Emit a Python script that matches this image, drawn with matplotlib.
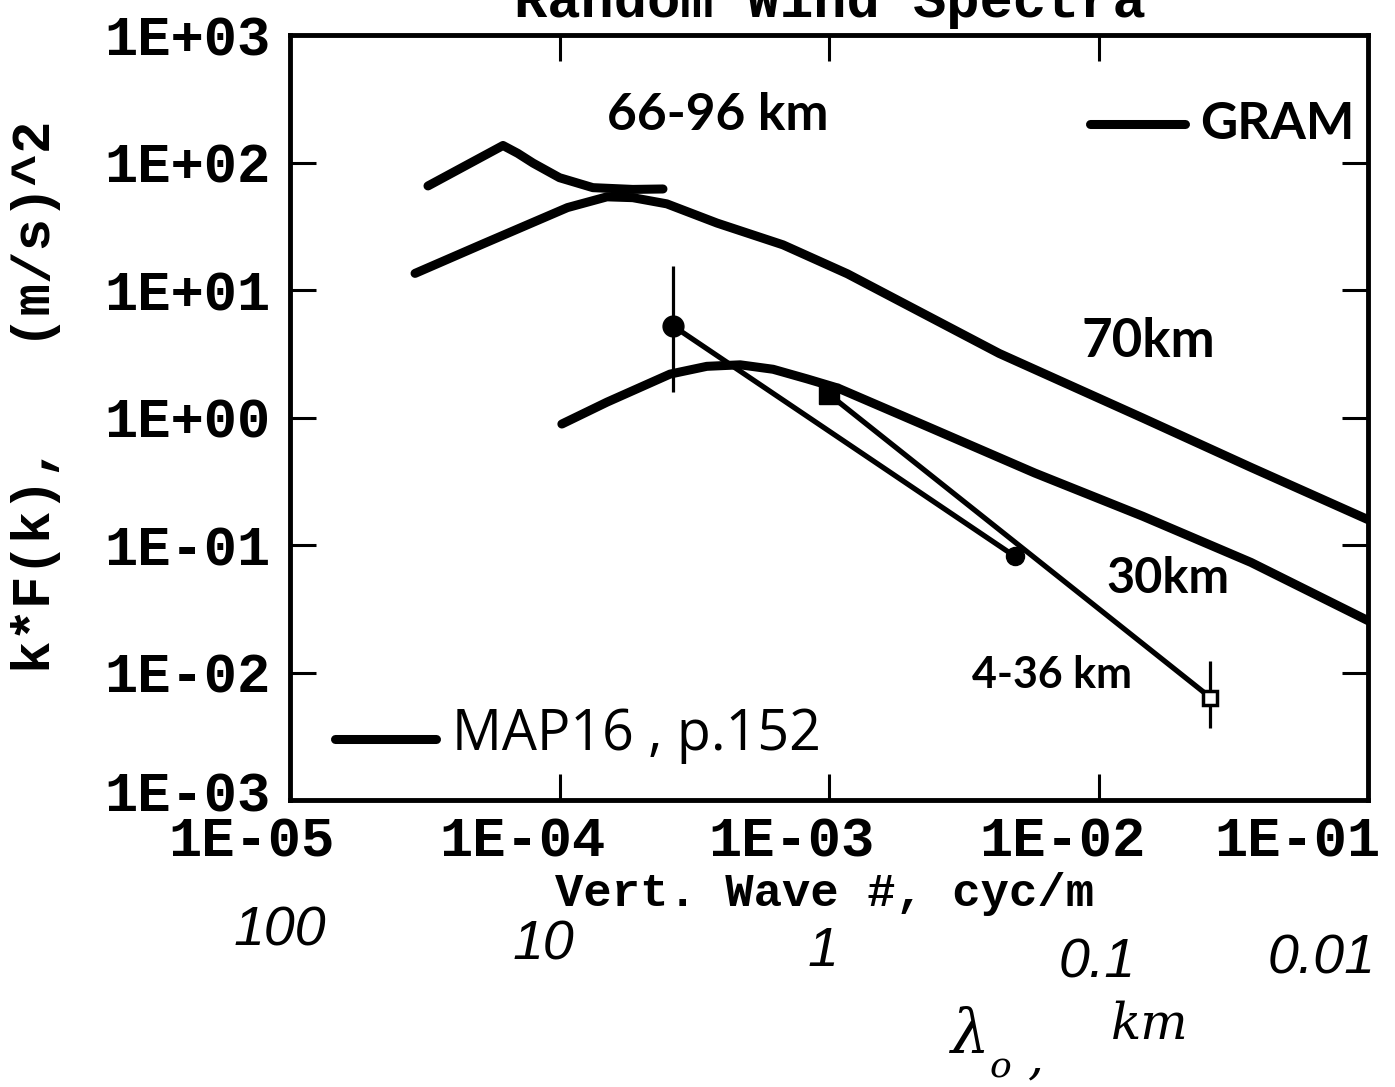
import matplotlib
matplotlib.use("Agg")
import matplotlib.pyplot as plt
import matplotlib.transforms as mtransforms
from matplotlib.ticker import NullLocator

# --- spectra (wavenumber in cyc/m, k*F(k) in (m/s)^2) ---
gram70_k = [2.91e-5, 5.2e-5, 1.07e-4, 1.5e-4, 1.87e-4, 2.5e-4, 3.84e-4,
            6.75e-4, 1.17e-3, 4.28e-3, 1.46e-2, 3.68e-2, 1e-1]
gram70_f = [13.5, 23.0, 44.3, 53.8, 53.0, 47.4, 33.5,
            22.6, 13.4, 3.18, 0.99, 0.406, 0.158]

upper_k = [3.25e-5, 6.17e-5, 7.0e-5, 7.98e-5, 1.0e-4, 1.33e-4, 1.87e-4, 2.42e-4]
upper_f = [65.5, 136, 118, 98.9, 76, 63.5, 61.5, 62]

gram30_k = [1.02e-4, 1.5e-4, 2.57e-4, 3.52e-4, 4.68e-4, 6.2e-4, 8.28e-4,
            1.08e-3, 2.33e-3, 5.8e-3, 1.46e-2, 3.68e-2, 1e-1]
gram30_f = [0.889, 1.32, 2.19, 2.52, 2.59, 2.39, 2.01,
            1.70, 0.845, 0.367, 0.168, 0.073, 0.0255]

# MAP16 measurements (4-36 km)
map_circ_k = [2.64e-4, 4.9e-3]
map_circ_f = [5.22, 0.0813]
map_sq_k = [1e-3, 0.026]
map_sq_f = [1.52, 0.00637]
err_k = [2.64e-4, 0.026]
err_lo = [1.58, 0.0037]
err_hi = [15.5, 0.0124]

x_ticks = [1e-5, 1e-4, 1e-3, 1e-2, 1e-1]
x_tick_labels = ["1E-05", "1E-04", "1E-03", "1E-02", "1E-01"]
y_ticks = [1e-3, 1e-2, 1e-1, 1e0, 1e1, 1e2, 1e3]
y_tick_labels = ["1E-03", "1E-02", "1E-01", "1E+00", "1E+01", "1E+02", "1E+03"]

# wavelength scale written under the axis
lam_labels = ["100", "10", "1", "0.1", "0.01"]

MONO = "Liberation Mono"
HAND = "Lato"

fig = plt.figure(figsize=(13.95, 10.87), dpi=100)
ax = fig.add_axes([0.2079, 0.2640, 0.7728, 0.7038])
ax.set_xscale("log")
ax.set_yscale("log")
ax.set_xlim(1e-5, 1e-1)
ax.set_ylim(1e-3, 1e3)

# thick curves
ax.plot(gram70_k, gram70_f, color="black", lw=6.5, solid_capstyle="round",
        solid_joinstyle="round")
ax.plot(upper_k, upper_f, color="black", lw=6.5, solid_capstyle="round",
        solid_joinstyle="round")
ax.plot(gram30_k, gram30_f, color="black", lw=6.5, solid_capstyle="round",
        solid_joinstyle="round")

# MAP16 points with connecting lines
ax.plot(map_circ_k, map_circ_f, color="black", lw=3.8)
ax.plot(map_sq_k, map_sq_f, color="black", lw=3.8)
ax.vlines(err_k, err_lo, err_hi, color="black", lw=2.3)
ax.plot(map_circ_k[0], map_circ_f[0], "o", color="black", ms=15)
ax.plot(map_circ_k[1], map_circ_f[1], "o", color="black", ms=13)
ax.plot(map_sq_k[0], map_sq_f[0], "s", color="black", ms=14)
ax.plot(map_sq_k[1], map_sq_f[1], "s", color="black", mfc="white", mew=2.5, ms=10)

# axes frame and ticks
for sp in ax.spines.values():
    sp.set_linewidth(3.5)
ax.set_xticks(x_ticks)
ax.set_xticklabels(x_tick_labels)
ax.set_yticks(y_ticks)
ax.set_yticklabels(y_tick_labels)
ax.xaxis.set_minor_locator(NullLocator())
ax.yaxis.set_minor_locator(NullLocator())
ax.tick_params(which="major", direction="in", length=19, width=2.2,
               top=True, right=True)
ax.tick_params(axis="y", pad=14)
ax.tick_params(axis="x", pad=12)
for lab in ax.get_xticklabels() + ax.get_yticklabels():
    lab.set_fontfamily(MONO)
    lab.set_fontweight("bold")
    lab.set_fontsize(40)

# x tick labels sit left of their ticks
shifts = [-28, -27, -27, -26, -51]
for lab, dx in zip(ax.get_xticklabels(), shifts):
    lab.set_transform(lab.get_transform() +
                      mtransforms.ScaledTranslation(dx / 72, 0, fig.dpi_scale_trans))

# lowest y label is lifted a little off the corner
low = ax.get_yticklabels()[0]
low.set_transform(low.get_transform() +
                  mtransforms.ScaledTranslation(0, 6 / 72, fig.dpi_scale_trans))

# title (top edge runs off the page)
fig.text(830 / 1395, 1 - 17 / 1087, "Random Wind Spectra", ha="center",
         va="baseline", family=MONO, weight="bold", fontsize=40)
fig.text(825 / 1395, 1 - 894 / 1087, "Vert. Wave #, cyc/m", ha="center",
         va="center", family=MONO, weight="bold", fontsize=34)
fig.text(36 / 1395, 1 - 397 / 1087, "k*F(k),   (m/s)^2", ha="center",
         va="center", rotation=90, family=MONO, weight="bold", fontsize=39)

# hand-written notes inside the plot
ax.text(0.397, 0.895, "66-96 km", transform=ax.transAxes, ha="center",
        va="center", family=HAND, weight="bold", fontsize=37)
ax.plot([0.742, 0.830], [0.884, 0.884], transform=ax.transAxes, color="black",
        lw=6.5, solid_capstyle="round")
ax.text(0.844, 0.883, "GRAM", transform=ax.transAxes, ha="left", va="center",
        family=HAND, weight="bold", fontsize=37)
ax.text(0.796, 0.599, "70km", transform=ax.transAxes, ha="center",
        va="center", family=HAND, weight="bold", fontsize=38)
ax.text(0.814, 0.290, "30km", transform=ax.transAxes, ha="center",
        va="center", family=HAND, weight="bold", fontsize=35)
ax.text(0.707, 0.163, "4-36 km", transform=ax.transAxes, ha="center",
        va="center", family=HAND, weight="bold", fontsize=31)
ax.plot([0.042, 0.135], [0.080, 0.080], transform=ax.transAxes, color="black",
        lw=6.5, solid_capstyle="round")
ax.text(0.150, 0.085, "MAP16 , p.152", transform=ax.transAxes, ha="left",
        va="center", family="Open Sans", fontsize=40)

# wavelength (km) under each wavenumber decade
lam_x = [280, 543, 823, 1097, 1322]
lam_y = [932, 945, 952, 964, 960]
for txt, px, py in zip(lam_labels, lam_x, lam_y):
    fig.text(px / 1395, 1 - py / 1087, txt, ha="center", va="center",
             family="Liberation Sans", style="italic", fontsize=40)

fig.text(970 / 1395, 1 - 1035 / 1087, "λ", ha="center", va="center",
         family="DejaVu Serif", style="italic", fontsize=44)
fig.text(1000 / 1395, 1 - 1068 / 1087, "o", ha="center", va="center",
         family="DejaVu Serif", style="italic", fontsize=26)
fig.text(1035 / 1395, 1 - 1060 / 1087, ",", ha="center", va="center",
         family="DejaVu Serif", style="italic", fontsize=36)
fig.text(1150 / 1395, 1 - 1025 / 1087, "km", ha="center", va="center",
         family="DejaVu Serif", style="italic", fontsize=36)

fig.savefig("out.png", dpi=100, facecolor="white")
